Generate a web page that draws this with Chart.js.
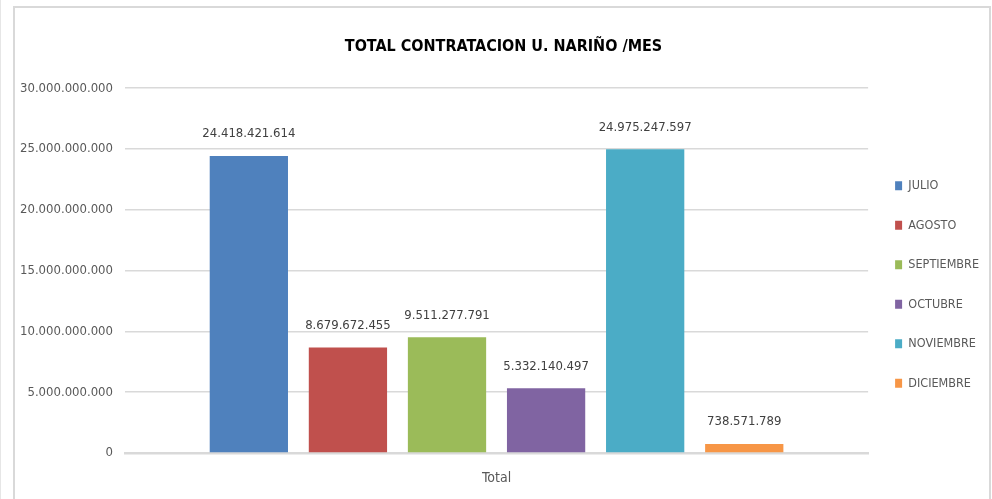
<!DOCTYPE html>
<html>
<head>
<meta charset="utf-8">
<script src="https://cdn.jsdelivr.net/npm/chart.js@4.4.1/dist/chart.umd.min.js"></script>
<style>
  html, body { margin: 0; padding: 0; background: #fff; }
  #wrap { width: 992px; height: 499px; }
</style>
</head>
<body>
<div id="wrap"><canvas id="chart" width="992" height="499"></canvas></div>
<script>
  "use strict";

  // Data
  var categories = ["Total"];
  var months = ["JULIO", "AGOSTO", "SEPTIEMBRE", "OCTUBRE", "NOVIEMBRE", "DICIEMBRE"];
  var values = [24418421614, 8679672455, 9511277791, 5332140497, 24975247597, 738571789];
  var colors = ["#4f81bd", "#c0504d", "#9bbb59", "#8064a2", "#4bacc6", "#f79646"];
  var yTicks = [0, 5000000000, 10000000000, 15000000000, 20000000000, 25000000000, 30000000000];

  var FONT = "'DejaVu Sans Condensed', 'Liberation Sans Narrow', sans-serif";

  function fmt(v) {
    return String(Math.round(v)).replace(/\B(?=(\d{3})+(?!\d))/g, ".");
  }

  // Outer frame
  var framePlugin = {
    id: "frame",
    beforeDraw: function (chart) {
      var c = chart.ctx;
      c.save();
      c.strokeStyle = "#d9d9d9";
      c.lineWidth = 2;
      c.beginPath();
      c.moveTo(14, 499);
      c.lineTo(14, 7);
      c.lineTo(990, 7);
      c.lineTo(990, 499);
      c.stroke();
      c.strokeStyle = "#e6e6e6";
      c.lineWidth = 1;
      c.beginPath();
      c.moveTo(0.5, 0);
      c.lineTo(0.5, 499);
      c.stroke();
      c.restore();
    }
  };

  // Value labels above bars
  var labelPlugin = {
    id: "valueLabels",
    afterDatasetsDraw: function (chart) {
      var c = chart.ctx;
      c.save();
      c.font = "13px " + FONT;
      c.fillStyle = "#404040";
      c.textAlign = "center";
      c.textBaseline = "middle";
      chart.data.datasets.forEach(function (ds, i) {
        chart.getDatasetMeta(i).data.forEach(function (bar, j) {
          c.fillText(fmt(ds.data[j]), bar.x, bar.y - 22);
        });
      });
      c.restore();
    }
  };

  var datasets = months.map(function (m, i) {
    return {
      label: m,
      data: [values[i]],
      backgroundColor: colors[i],
      borderWidth: 0,
      categoryPercentage: 0.8,
      barPercentage: 0.79
    };
  });

  var ctx = document.getElementById("chart").getContext("2d");
  var myChart = new Chart(ctx, {
    type: "bar",
    data: { labels: categories, datasets: datasets },
    options: {
      responsive: false,
      animation: false,
      layout: { padding: { left: 18, right: 3, top: 0, bottom: 0 } },
      plugins: {
        title: {
          display: true,
          text: "TOTAL CONTRATACION U. NARIÑO /MES",
          color: "#000",
          font: { family: FONT, size: 16, weight: "bold" },
          padding: { top: 37, bottom: 32 }
        },
        legend: {
          position: "right",
          align: "center",
          fullSize: false,
          title: { display: true, text: " ", font: { size: 10 }, padding: 8 },
          labels: {
            color: "#595959",
            font: { family: FONT, size: 12.5 },
            boxWidth: 7,
            boxHeight: 9,
            padding: 27
          }
        },
        tooltip: { enabled: false }
      },
      scales: {
        x: {
          grid: { display: false, drawTicks: false },
          border: { display: true, color: "#d9d9d9", width: 2.5 },
          afterFit: function (scale) { scale.height = 46; },
          ticks: { color: "#595959", font: { family: FONT, size: 14 }, padding: 17 }
        },
        y: {
          min: 0,
          max: 30000000000,
          afterBuildTicks: function (scale) {
            scale.ticks = yTicks.map(function (v) { return { value: v }; });
          },
          afterFit: function (scale) { scale.width = 107; },
          grid: { color: "#d9d9d9", lineWidth: 1.5, drawTicks: false },
          border: { display: false },
          ticks: {
            color: "#595959",
            font: { family: FONT, size: 13 },
            padding: 12,
            callback: function (v) { return fmt(v); }
          }
        }
      }
    },
    plugins: [framePlugin, labelPlugin]
  });
</script>
</body>
</html>
